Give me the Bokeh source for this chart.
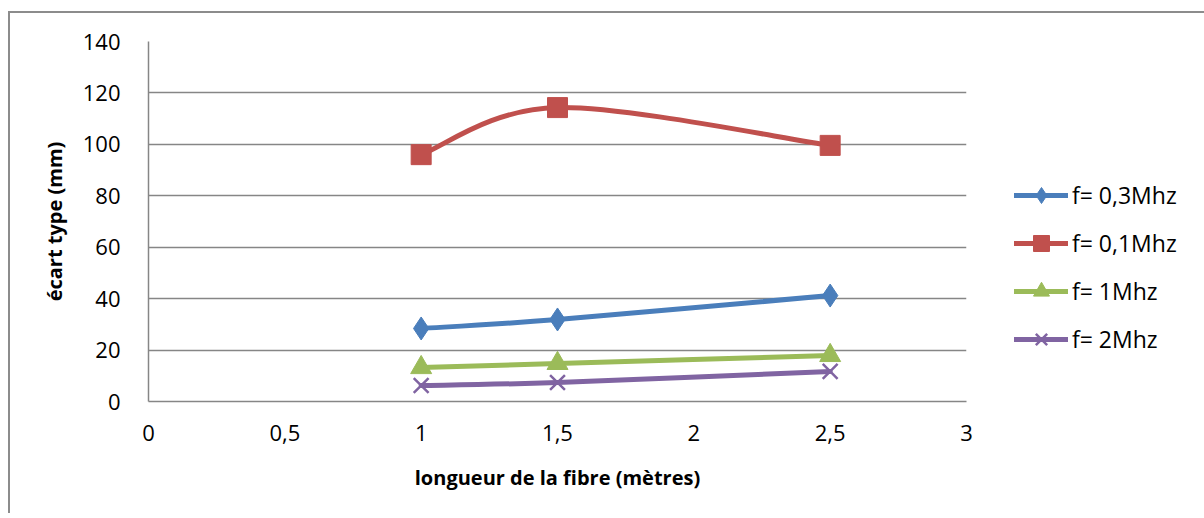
from bokeh.plotting import figure
from bokeh.models import FixedTicker, Legend, LegendItem, ColumnDataSource
from bokeh.embed import file_html
from bokeh.resources import INLINE

# ---- data ----
x_len = [1.0, 1.5, 2.5]
s_03 = [28.4, 31.9, 41.2]
s_01 = [96.0, 114.3, 99.6]
s_1 = [13.2, 14.8, 17.9]
s_2 = [6.2, 7.4, 11.7]
names = ["f= 0,3Mhz", "f= 0,1Mhz", "f= 1Mhz", "f= 2Mhz"]
x_ticks = [0, 0.5, 1, 1.5, 2, 2.5, 3]
x_tick_labels = ["0", "0,5", "1", "1,5", "2", "2,5", "3"]
y_ticks = [0, 20, 40, 60, 80, 100, 120, 140]

colors = ["#4A7EBB", "#C0504D", "#9BBB59", "#8064A2"]
markers = ["diamond", "square", "triangle", "x"]
msizes = [23, 20, 21, 21]
FONT = "Open Sans"

p = figure(output_backend="svg", toolbar_location=None,
           frame_width=818, frame_height=360,
           min_border_left=138, min_border_top=28,
           min_border_right=230, min_border_bottom=112,
           x_range=(0, 3), y_range=(0, 140))
p.styles = {"border-top": "2px solid #8c8c8c", "border-left": "2px solid #8c8c8c",
            "margin-left": "8px", "margin-top": "11px"}
p.outline_line_color = None
p.background_fill_color = "white"

def smooth_segments(xs, ys, t=1.0/6):
    n = len(xs)
    out = dict(x0=[], y0=[], x1=[], y1=[], cx0=[], cy0=[], cx1=[], cy1=[])
    for i in range(n - 1):
        im = max(i - 1, 0)
        ip2 = min(i + 2, n - 1)
        out["x0"].append(xs[i]); out["y0"].append(ys[i])
        out["x1"].append(xs[i + 1]); out["y1"].append(ys[i + 1])
        out["cx0"].append(xs[i] + (xs[i + 1] - xs[im]) * t)
        out["cy0"].append(ys[i] + (ys[i + 1] - ys[im]) * t)
        out["cx1"].append(xs[i + 1] - (xs[ip2] - xs[i]) * t)
        out["cy1"].append(ys[i + 1] - (ys[ip2] - ys[i]) * t)
    return out

items = []
for ys, name, c, m, ms in zip([s_03, s_01, s_1, s_2], names, colors, markers, msizes):
    seg = ColumnDataSource(smooth_segments(x_len, ys))
    bz = p.bezier(x0="x0", y0="y0", x1="x1", y1="y1", cx0="cx0", cy0="cy0",
                  cx1="cx1", cy1="cy1", source=seg, line_color=c, line_width=5,
                  line_cap="round")
    leg_line = p.line(x=[float("nan")], y=[float("nan")], line_color=c,
                      line_width=5, line_cap="round")
    if m == "x":
        sc = p.scatter(x_len, ys, marker=m, size=ms, line_color=c, line_width=2.5)
    else:
        sc = p.scatter(x_len, ys, marker=m, size=ms, fill_color=c, line_color=c)
    items.append(LegendItem(label=name, renderers=[leg_line, bz, sc]))

legend = Legend(items=items, location=(48, 42), glyph_width=54, glyph_height=40,
                label_height=40, spacing=8, padding=0, margin=0,
                label_standoff=4, border_line_color=None,
                background_fill_alpha=0,
                label_text_font=FONT, label_text_font_size="23px",
                label_text_color="#000000")
p.add_layout(legend, "right")

# axes
p.xaxis.ticker = FixedTicker(ticks=x_ticks)
p.xaxis.major_label_overrides = {t: l for t, l in zip(x_ticks, x_tick_labels)}
p.yaxis.ticker = FixedTicker(ticks=y_ticks)
for ax in (p.xaxis[0], p.yaxis[0]):
    ax.axis_line_color = "#868686"
    ax.axis_line_width = 1.5
    ax.major_tick_line_color = None
    ax.minor_tick_line_color = None
    ax.major_label_text_font = FONT
    ax.major_label_text_font_size = "22px"
    ax.major_label_text_color = "#000000"
    ax.axis_label_text_font = FONT
    ax.axis_label_text_font_size = "20px"
    ax.axis_label_text_font_style = "bold"
    ax.axis_label_text_color = "#000000"

p.xaxis.axis_label = "longueur de la fibre (mètres)"
p.yaxis.axis_label = "écart type (mm)"
p.xaxis.major_label_standoff = 17
p.yaxis.major_label_standoff = 22
p.xaxis.axis_label_standoff = 20
p.yaxis.axis_label_standoff = 12

p.xgrid.grid_line_color = None
p.ygrid.ticker = FixedTicker(ticks=y_ticks)
p.ygrid.grid_line_color = "#868686"
p.ygrid.grid_line_width = 1.5

open("out.html", "w").write(file_html(p, INLINE))
